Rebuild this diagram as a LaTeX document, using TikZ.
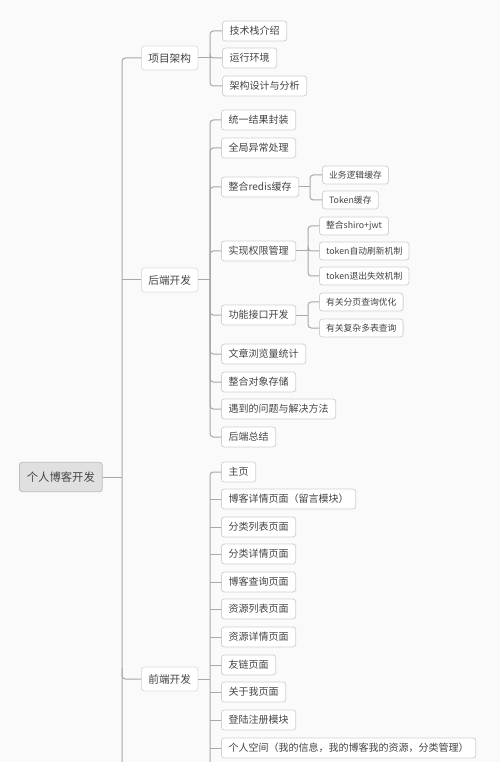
\documentclass[tikz,border=0pt]{standalone}
\usepackage{fontspec}
\newfontfamily\cjk{Noto Sans CJK SC}
\definecolor{bgc}{HTML}{FAFAFA}
\definecolor{linec}{HTML}{A8A8A8}
\definecolor{boxc}{HTML}{D2D2D2}
\definecolor{txtc}{HTML}{444444}
\definecolor{rootfill}{HTML}{E0E0E0}
\begin{document}
\begin{tikzpicture}[x=0.75pt,y=-0.75pt,
  base/.style={draw=boxc, fill=white, rounded corners=2.2pt, text=txtc, inner ysep=0pt, line width=0.6pt, anchor=west},
  rootbox/.style={base, fill=rootfill, draw=boxc!90!black, font=\cjk\fontsize{8.5pt}{10pt}\selectfont, inner xsep=5.6pt, minimum height=22pt},
  lone/.style={base, font=\cjk\fontsize{8pt}{10pt}\selectfont, inner xsep=5.2pt, minimum height=18pt, draw=boxc!70},
  ltwo/.style={base, font=\cjk\fontsize{7.5pt}{9pt}\selectfont, inner xsep=5.4pt, minimum height=15pt},
  lthree/.style={base, font=\cjk\fontsize{6.6pt}{8pt}\selectfont, inner xsep=5pt, minimum height=13.5pt},
  conn/.style={draw=linec, line width=0.75pt, rounded corners=2.5pt}]
\fill[bgc] (0,0) rectangle (500,762);
\useasboundingbox (0,0) rectangle (500,762);

% root and level 1
\node[rootbox] (root) at (19,477) {个人博客开发};
\node[lone] (xm) at (141,58) {项目架构};
\node[lone] (hd) at (141,280) {后端开发};
\node[lone] (qd) at (141,679) {前端开发};

% trunk
\coordinate (t) at (122,0);
\coordinate (tb) at (122,762);
\draw[conn] (xm.west) -| (tb);
\draw[conn] (root.east) -- (root.east -| t);
\draw[conn] (hd.west) -- (hd.west -| t);
\draw[conn] (qd.west) -| ([yshift=8pt]qd.west -| t);

% 项目架构 children
\node[ltwo] (a1) at (222,31) {技术栈介绍};
\node[ltwo] (a2) at (222,58) {运行环境};
\node[ltwo] (a3) at (222,86) {架构设计与分析};
\coordinate (ba) at (210,0);
\draw[conn] (xm.east) -- (xm.east -| ba);
\foreach \c in {a1,a2,a3} \draw[conn] (xm.east -| ba) |- (\c.west);

% 后端开发 children
\node[ltwo] (b1) at (221,120) {统一结果封装};
\node[ltwo] (b2) at (221,148) {全局异常处理};
\node[ltwo] (b3) at (221,187) {整合redis缓存};
\node[ltwo] (b4) at (221,251) {实现权限管理};
\node[ltwo] (b5) at (221,315) {功能接口开发};
\node[ltwo] (b6) at (221,354) {文章浏览量统计};
\node[ltwo] (b7) at (221,382) {整合对象存储};
\node[ltwo] (b8) at (221,409) {遇到的问题与解决方法};
\node[ltwo] (b9) at (221,437) {后端总结};
\draw[conn] (hd.east) -- (hd.east -| ba);
\foreach \c in {b1,b2,b3,b4,b5,b6,b7,b8,b9} \draw[conn] (hd.east -| ba) |- (\c.west);

% level 3 under 整合redis缓存
\node[lthree] (c1) at (322,175) {业务逻辑缓存};
\node[lthree] (c2) at (322,200) {Token缓存};
\coordinate (bc) at (310,0);
\draw[conn] (b3.east) -- (b3.east -| bc);
\foreach \c in {c1,c2} \draw[conn] (b3.east -| bc) |- (\c.west);

% level 3 under 实现权限管理
\node[lthree] (d1) at (319,226) {整合shiro+jwt};
\node[lthree] (d2) at (319,251) {token自动刷新机制};
\node[lthree] (d3) at (319,276) {token退出失效机制};
\coordinate (bd) at (308,0);
\draw[conn] (b4.east) -- (b4.east -| bd);
\foreach \c in {d1,d2,d3} \draw[conn] (b4.east -| bd) |- (\c.west);

% level 3 under 功能接口开发
\node[lthree] (e1) at (319,302) {有关分页查询优化};
\node[lthree] (e2) at (319,328) {有关复杂多表查询};
\draw[conn] (b5.east) -- (b5.east -| bd);
\foreach \c in {e1,e2} \draw[conn] (b5.east -| bd) |- (\c.west);

% 前端开发 children
\node[ltwo] (f1) at (221,472) {主页};
\node[ltwo] (f2) at (221,499) {博客详情页面（留言模块）};
\node[ltwo] (f3) at (221,527) {分类列表页面};
\node[ltwo] (f4) at (221,554) {分类详情页面};
\node[ltwo] (f5) at (221,582) {博客查询页面};
\node[ltwo] (f6) at (221,609) {资源列表页面};
\node[ltwo] (f7) at (221,637) {资源详情页面};
\node[ltwo] (f8) at (221,665) {友链页面};
\node[ltwo] (f9) at (221,692) {关于我页面};
\node[ltwo] (f10) at (221,720) {登陆注册模块};
\node[ltwo] (f11) at (221,748) {个人空间（我的信息，我的博客我的资源，分类管理）};
\coordinate (bfb) at (210,762);
\draw[conn] (qd.east) -- (qd.east -| ba);
\draw[conn] (f1.west) -| (bfb);
\foreach \c in {f2,f3,f4,f5,f6,f7,f8,f9,f10,f11} \draw[conn] (\c.west -| ba) -- (\c.west);
\end{tikzpicture}
\end{document}
